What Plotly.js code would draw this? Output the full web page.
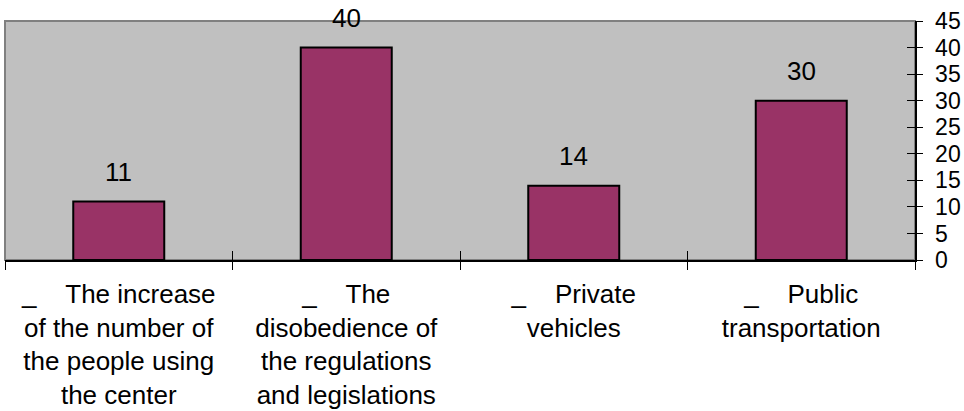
<!DOCTYPE html>
<html>
<head>
<meta charset="utf-8">
<script src="https://cdn.plot.ly/plotly-3.0.1.min.js"></script>
<style>html,body{margin:0;padding:0;background:#fff;}</style>
</head>
<body>
<div id="chart" style="width:964px;height:411px;"></div>
<script>
const NB = '\u00a0\u00a0\u00a0\u00a0';
const categories = [
  '_' + NB + 'The increase<br>of the number of<br>the people using<br>the center',
  '_' + NB + 'The<br>disobedience of<br>the regulations<br>and legislations',
  '_' + NB + 'Private<br>vehicles',
  '_' + NB + 'Public<br>transportation'
];
const values = [11, 40, 14, 30];
const yTickVals = [0, 5, 10, 15, 20, 25, 30, 35, 40, 45];

const FONT = 'Liberation Sans, Arial, sans-serif';

const traces = [
  {
    type: 'bar',
    x: categories,
    y: values,
    marker: {color: '#993366', line: {color: '#000000', width: 2}},
    hoverinfo: 'skip',
    xaxis: 'x', yaxis: 'y'
  },
  {
    type: 'bar',
    x: categories,
    y: values,
    marker: {color: 'rgba(0,0,0,0)', line: {width: 0}},
    hoverinfo: 'skip',
    xaxis: 'x2', yaxis: 'y2',
    showlegend: false
  }
];

const annotations = categories.map((c, i) => ({
  x: c, y: values[i], xref: 'x', yref: 'y',
  text: String(values[i]),
  showarrow: false,
  yanchor: 'bottom',
  yshift: 13,
  font: {family: FONT, size: 26, color: '#000'}
}));

const layout = {
  width: 964, height: 411,
  margin: {l: 5, r: 49, t: 21, b: 151, pad: 0},
  paper_bgcolor: '#ffffff',
  plot_bgcolor: '#c0c0c0',
  showlegend: false,
  bargap: 0.6,
  font: {family: FONT, color: '#000'},
  xaxis: {
    type: 'category',
    tickson: 'boundaries',
    ticks: 'outside', ticklen: 8, tickwidth: 1, tickcolor: '#000',
    showline: true, linecolor: '#000', linewidth: 1.5,
    showgrid: false, zeroline: false,
    tickfont: {family: FONT, size: 26, color: '#000'},
    ticklabelstandoff: 10,
    fixedrange: true
  },
  xaxis2: {
    type: 'category', overlaying: 'x', anchor: 'y',
    tickson: 'boundaries',
    ticks: 'inside', ticklen: 9, tickwidth: 1, tickcolor: '#000',
    showticklabels: false, showline: false, showgrid: false, zeroline: false,
    fixedrange: true
  },
  yaxis: {
    side: 'right',
    range: [0, 45],
    tickvals: yTickVals,
    ticks: 'outside', ticklen: 6, tickwidth: 1, tickcolor: '#000',
    showline: true, linecolor: '#000', linewidth: 1.5,
    showgrid: false, zeroline: false,
    tickfont: {family: FONT, size: 23, color: '#000'},
    ticklabelstandoff: 8,
    fixedrange: true
  },
  yaxis2: {
    side: 'right', overlaying: 'y', anchor: 'x',
    range: [0, 45],
    tickvals: yTickVals,
    ticks: 'inside', ticklen: 8, tickwidth: 1, tickcolor: '#000',
    showticklabels: false, showline: false, showgrid: false, zeroline: false,
    fixedrange: true
  },
  shapes: [{
    type: 'rect', xref: 'paper', yref: 'paper', x0: 0, x1: 1, y0: 0, y1: 1,
    line: {color: '#808080', width: 2}, layer: 'below'
  }],
  annotations: annotations
};

Plotly.newPlot('chart', traces, layout, {displayModeBar: false, staticPlot: true});
</script>
</body>
</html>
